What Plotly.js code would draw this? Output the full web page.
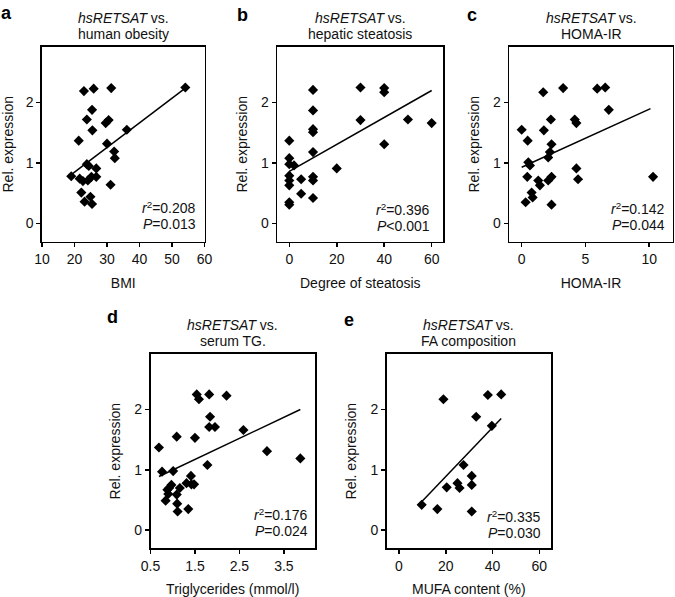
<!DOCTYPE html>
<html>
<head>
<meta charset="utf-8">
<script src="https://cdn.plot.ly/plotly-3.0.1.min.js"></script>
<style>html,body{margin:0;padding:0;background:#fff;}#chart{width:675px;height:597px;}</style>
</head>
<body>
<div id="chart"></div>
<script>
// ---- Data ----
// Panel a: BMI vs relative expression
const aX = [22.9, 25.9, 31.3, 54.1, 25.4, 23.8, 29.6, 30.5, 25.5, 36.1, 21.3, 30.0, 32.2, 32.4, 23.8, 24.4, 26.7, 19.0, 21.6, 22.6, 24.1, 25.2, 26.7, 31.1, 22.1, 24.9, 23.1, 25.4];
const aY = [2.19, 2.23, 2.24, 2.25, 1.88, 1.72, 1.66, 1.71, 1.54, 1.55, 1.37, 1.32, 1.19, 1.08, 0.98, 0.95, 0.91, 0.78, 0.74, 0.70, 0.71, 0.77, 0.77, 0.64, 0.51, 0.44, 0.36, 0.32];
const aFitX = [19.3, 54.1];
const aFitY = [0.82, 2.24];

// Panel b: degree of steatosis
const bX = [0, 0, 0, 2, 0, 0, 0, 0, 0, 5, 5, 10, 10, 10, 10, 10, 10, 10, 10, 20, 30, 30, 40, 40, 40, 50, 60];
const bY = [1.37, 1.08, 0.98, 0.96, 0.79, 0.71, 0.63, 0.35, 0.31, 0.73, 0.49, 2.21, 1.87, 1.56, 1.51, 1.18, 0.77, 0.71, 0.42, 0.91, 2.25, 1.71, 2.24, 2.17, 1.31, 1.72, 1.66];
const bFitX = [0, 60];
const bFitY = [0.86, 2.20];

// Panel c: HOMA-IR
const cX = [0.0, 0.47, 0.52, 0.65, 0.44, 0.31, 0.78, 0.86, 1.30, 1.43, 1.69, 1.74, 2.29, 2.34, 2.21, 2.08, 2.08, 2.34, 2.34, 3.25, 4.29, 4.16, 4.29, 4.42, 5.92, 6.55, 6.83, 10.3];
const cY = [1.55, 1.37, 1.01, 0.96, 0.77, 0.35, 0.51, 0.43, 0.71, 0.63, 2.17, 1.54, 1.72, 1.31, 1.18, 1.09, 0.71, 0.77, 0.31, 2.24, 0.91, 1.72, 1.66, 0.73, 2.23, 2.25, 1.88, 0.77];
const cFitX = [0, 10.1];
const cFitY = [0.93, 1.90];

// Panel d: serum triglycerides
const dX = [0.69, 0.76, 1.01, 1.09, 0.84, 0.90, 0.92, 0.97, 0.88, 1.09, 1.10, 1.11, 1.16, 1.35, 1.31, 1.41, 1.42, 1.48, 1.50, 1.54, 1.59, 1.82, 2.21, 1.84, 1.82, 1.95, 1.78, 2.59, 3.12, 3.87];
const dY = [1.37, 0.97, 0.98, 1.55, 0.49, 0.60, 0.70, 0.75, 0.67, 0.59, 0.44, 0.31, 0.70, 0.35, 0.78, 0.90, 0.76, 0.76, 1.53, 2.25, 2.17, 2.25, 2.23, 1.88, 1.71, 1.71, 1.08, 1.66, 1.31, 1.19];
const dFitX = [0.69, 3.87];
const dFitY = [0.89, 2.00];

// Panel e: MUFA content
const eX = [9.7, 16.4, 19.0, 20.4, 25.0, 25.9, 27.6, 31.1, 31.1, 31.1, 33.0, 38.0, 39.7, 43.7];
const eY = [0.42, 0.35, 2.17, 0.71, 0.78, 0.70, 1.08, 0.90, 0.75, 0.31, 1.88, 2.24, 1.73, 2.25];
const eFitX = [9.7, 43.7];
const eFitY = [0.47, 1.85];

// Tick labels
const aTicks = [10, 20, 30, 40, 50, 60];
const bTicks = [0, 20, 40, 60];
const cTicks = [0, 5, 10];
const dTicks = [0.5, 1.5, 2.5, 3.5];
const dTickText = ['0.5', '1.5', '2.5', '3.5'];
const eTicks = [0, 20, 40, 60];
const yTicks = [0, 1, 2];

const panelLetters = ['a', 'b', 'c', 'd', 'e'];
const panelTitles = ['human obesity', 'hepatic steatosis', 'HOMA-IR', 'serum TG.', 'FA composition'];
const xTitles = ['BMI', 'Degree of steatosis', 'HOMA-IR', 'Triglycerides (mmol/l)', 'MUFA content (%)'];
const yTitle = 'Rel. expression';
const r2Text = ['0.208', '0.396', '0.142', '0.176', '0.335'];
const pText = ['=0.013', '<0.001', '=0.044', '=0.024', '=0.030'];

// ---- Layout geometry (pixels) ----
const W = 675, H = 597;
const boxes = [
  {l: 42, r: 204.5, t: 47, b: 241.5},
  {l: 277.3, r: 443.3, t: 47, b: 241.5},
  {l: 509.3, r: 672.7, t: 47, b: 241.5},
  {l: 150.5, r: 315, t: 354, b: 548.3},
  {l: 386.7, r: 551, t: 354, b: 548.3}
];
const xRanges = [[10, 60], [-5.05, 64.9], [-0.97, 11.84], [0.5, 4.2], [-5.26, 65]];
const yRange = [-0.30, 2.92];

const FONT = 'Liberation Sans, Arial, Helvetica, sans-serif';
const TXT = '#111';
const FS = 14;

const px = x => x / W;
const py = y => 1 - y / H;

const series = [[aX, aY, aFitX, aFitY], [bX, bY, bFitX, bFitY], [cX, cY, cFitX, cFitY], [dX, dY, dFitX, dFitY], [eX, eY, eFitX, eFitY]];
const xTickSets = [aTicks, bTicks, cTicks, dTicks, eTicks];

const traces = [];
const layout = {
  width: W, height: H,
  margin: {l: 0, r: 0, t: 0, b: 0},
  paper_bgcolor: '#fff', plot_bgcolor: '#fff',
  showlegend: false,
  font: {family: FONT, size: FS, color: TXT},
  annotations: []
};

function note(x, y, text, opts) {
  return Object.assign({
    xref: 'paper', yref: 'paper', x: px(x), y: py(y), xanchor: 'center', yanchor: 'middle',
    showarrow: false, text: text, font: {family: FONT, size: FS, color: TXT}
  }, opts || {});
}

series.forEach((s, i) => {
  const n = i === 0 ? '' : String(i + 1);
  const xa = 'x' + n, ya = 'y' + n;
  traces.push({
    type: 'scatter', mode: 'markers', x: s[0], y: s[1], xaxis: xa, yaxis: ya,
    marker: {symbol: 'diamond', size: 7.8, color: '#000', line: {width: 0}},
    cliponaxis: false, hoverinfo: 'skip'
  });
  traces.push({
    type: 'scatter', mode: 'lines', x: s[2], y: s[3], xaxis: xa, yaxis: ya,
    line: {color: '#000', width: 1.5}, hoverinfo: 'skip'
  });
  const bx = boxes[i];
  const axCommon = {
    showgrid: false, zeroline: false, showline: true, mirror: true, automargin: false,
    linecolor: '#000', linewidth: 1.6, ticks: 'outside', ticklen: 4, tickwidth: 1.5,
    tickcolor: '#000', tickfont: {family: FONT, size: FS, color: TXT}, fixedrange: true
  };
  const xt = xTickSets[i];
  layout['xaxis' + n] = Object.assign({}, axCommon, {
    domain: [px(bx.l), px(bx.r)], range: xRanges[i], anchor: ya,
    tickmode: 'array', tickvals: xt, ticktext: i === 3 ? dTickText : xt.map(String),
    title: {text: xTitles[i], font: {family: FONT, size: FS, color: TXT}, standoff: 12}
  });
  layout['yaxis' + n] = Object.assign({}, axCommon, {
    domain: [py(bx.b), py(bx.t)], range: yRange, anchor: xa,
    tickmode: 'array', tickvals: yTicks, ticktext: yTicks.map(String),
    title: {text: yTitle, font: {family: FONT, size: FS, color: TXT}, standoff: 10}
  });
  const cx = (bx.l + bx.r) / 2;
  const letterPos = [[6, 13], [242, 15], [472, 15], [113, 317], [349, 320]][i];
  layout.annotations.push(note(letterPos[0], letterPos[1], '<b>' + panelLetters[i] + '</b>',
    {font: {family: FONT, size: 18, color: '#000'}}));
  // two-line panel title
  layout.annotations.push(note(cx, bx.t - 29, '<i>hsRETSAT</i> vs.'));
  layout.annotations.push(note(cx, bx.t - 13, panelTitles[i]));
  // statistics (two lines)
  const sRight = [198.3, 431.5, 666.7, 310, 543.3][i];
  const sY = [[207.8, 223.8], [209.5, 225.5], [208.5, 224.5], [514.3, 530.2], [516.3, 532.2]][i];
  layout.annotations.push(note(sRight, sY[0], '<i>r</i><sup>2</sup>=' + r2Text[i], {xanchor: 'right', height: 13}));
  layout.annotations.push(note(sRight, sY[1], '<i>P</i>' + pText[i].replace('<', '&lt;'), {xanchor: 'right', height: 13}));
});

Plotly.newPlot('chart', traces, layout, {staticPlot: true, displayModeBar: false});
</script>
</body>
</html>
